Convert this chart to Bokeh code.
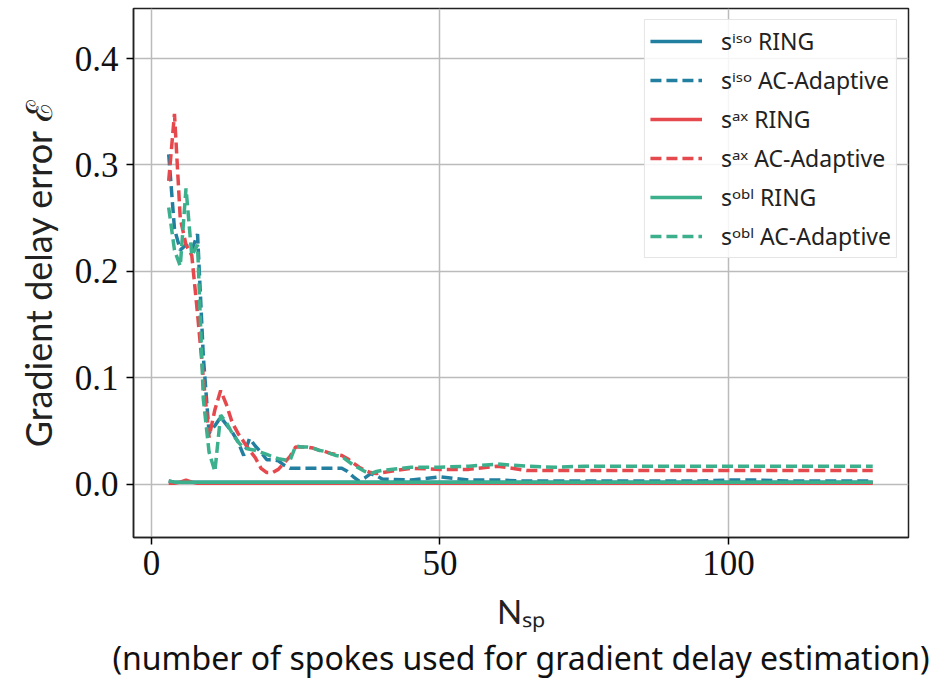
from bokeh.plotting import figure
from bokeh.models import Legend, LegendItem, FixedTicker, Range1d, Title, PrintfTickFormatter
from bokeh.embed import file_html
from bokeh.resources import INLINE

# Number of spokes
n_sp = [3, 4, 5, 6, 7, 8, 9, 10, 11, 12, 13, 14, 15, 16, 17, 18, 19, 20, 21, 22,
        23, 24, 25, 26, 27, 28, 29, 30, 31, 32, 33, 34, 35, 36, 37, 38, 39, 40,
        45, 50, 55, 60, 65, 70, 75, 80, 85, 90, 95, 100, 105, 110, 115, 120, 125]

iso_ring = [0.003, 0.002, 0.002, 0.002, 0.002, 0.002, 0.002, 0.002, 0.002, 0.002,
            0.002, 0.002, 0.002, 0.002, 0.002, 0.002, 0.002, 0.002, 0.002, 0.002,
            0.002, 0.002, 0.002, 0.002, 0.002, 0.002, 0.002, 0.002, 0.002, 0.002,
            0.002, 0.002, 0.002, 0.002, 0.002, 0.002, 0.002, 0.002,
            0.002, 0.002, 0.002, 0.002, 0.002, 0.002, 0.002, 0.002, 0.002, 0.002,
            0.002, 0.002, 0.002, 0.002, 0.002, 0.002, 0.002]
iso_ac = [0.310, 0.240, 0.220, 0.225, 0.220, 0.235, 0.120, 0.048, 0.055, 0.063,
          0.056, 0.049, 0.040, 0.027, 0.043, 0.036, 0.030, 0.023, 0.023, 0.022,
          0.018, 0.015, 0.015, 0.015, 0.015, 0.015, 0.015, 0.015, 0.015, 0.015,
          0.015, 0.012, 0.007, 0.003, 0.006, 0.010, 0.008, 0.005,
          0.004, 0.007, 0.004, 0.004, 0.003, 0.003, 0.003, 0.003, 0.003, 0.003,
          0.003, 0.004, 0.004, 0.003, 0.003, 0.003, 0.003]
ax_ring = [0.001, 0.001, 0.002, 0.004, 0.002, 0.001, 0.001, 0.001, 0.001, 0.001,
           0.001, 0.001, 0.001, 0.001, 0.001, 0.001, 0.001, 0.001, 0.001, 0.001,
           0.001, 0.001, 0.001, 0.001, 0.001, 0.001, 0.001, 0.001, 0.001, 0.001,
           0.001, 0.001, 0.001, 0.001, 0.001, 0.001, 0.001, 0.001,
           0.001, 0.001, 0.001, 0.001, 0.001, 0.001, 0.001, 0.001, 0.001, 0.001,
           0.001, 0.001, 0.001, 0.001, 0.001, 0.001, 0.001]
ax_ac = [0.285, 0.348, 0.250, 0.225, 0.215, 0.160, 0.100, 0.044, 0.070, 0.088,
         0.075, 0.058, 0.048, 0.040, 0.032, 0.025, 0.015, 0.011, 0.011, 0.014,
         0.020, 0.026, 0.035, 0.035, 0.035, 0.034, 0.032, 0.031, 0.029, 0.028,
         0.027, 0.024, 0.020, 0.016, 0.013, 0.011, 0.010, 0.011,
         0.015, 0.014, 0.014, 0.017, 0.013, 0.013, 0.013, 0.013, 0.013, 0.013,
         0.013, 0.013, 0.013, 0.013, 0.013, 0.013, 0.013]
obl_ring = [0.003, 0.002, 0.002, 0.002, 0.002, 0.002, 0.002, 0.002, 0.002, 0.002,
            0.002, 0.002, 0.002, 0.002, 0.002, 0.002, 0.002, 0.002, 0.002, 0.002,
            0.002, 0.002, 0.002, 0.002, 0.002, 0.002, 0.002, 0.002, 0.002, 0.002,
            0.002, 0.002, 0.002, 0.002, 0.002, 0.002, 0.002, 0.002,
            0.002, 0.002, 0.002, 0.002, 0.002, 0.002, 0.002, 0.002, 0.002, 0.002,
            0.002, 0.002, 0.002, 0.002, 0.002, 0.002, 0.002]
obl_ac = [0.260, 0.220, 0.205, 0.278, 0.215, 0.225, 0.080, 0.030, 0.012, 0.065,
          0.058, 0.048, 0.040, 0.034, 0.033, 0.032, 0.030, 0.028, 0.026, 0.024,
          0.023, 0.022, 0.036, 0.035, 0.035, 0.034, 0.032, 0.031, 0.029, 0.027,
          0.026, 0.022, 0.018, 0.015, 0.012, 0.010, 0.012, 0.013,
          0.016, 0.016, 0.017, 0.019, 0.017, 0.016, 0.017, 0.017, 0.017, 0.017,
          0.017, 0.017, 0.017, 0.017, 0.017, 0.017, 0.017]

x_ticks = [0, 50, 100]
y_ticks = [0.0, 0.1, 0.2, 0.3, 0.4]

BLUE = "#237fa0"
RED = "#e5484d"
GREEN = "#3caf8c"

p = figure(width=942, height=679, output_backend="svg", toolbar_location=None,
           x_range=Range1d(-3.1, 131.2), y_range=Range1d(-0.05, 0.447))
p.min_border_left = 133
p.min_border_right = 34
p.min_border_top = 8
p.min_border_bottom = 142
p.outline_line_color = "#222222"
p.outline_line_width = 1.5

series = [
    ("sⁱˢᵒ RING", iso_ring, BLUE, "solid"),
    ("sⁱˢᵒ AC-Adaptive", iso_ac, BLUE, "11 5"),
    ("sᵃˣ RING", ax_ring, RED, "solid"),
    ("sᵃˣ AC-Adaptive", ax_ac, RED, "11 5"),
    ("sᵒᵇˡ RING", obl_ring, GREEN, "solid"),
    ("sᵒᵇˡ AC-Adaptive", obl_ac, GREEN, "11 5"),
]
items = []
for name, ys, col, dash in series:
    r = p.line(n_sp, ys, line_color=col, line_width=3.5, line_dash=dash)
    items.append(LegendItem(label=name, renderers=[r]))

legend = Legend(items=items, location="top_right", margin=11,
                label_text_font="Noto Sans", label_text_font_size="23px",
                label_text_color="#222222",
                glyph_width=52, glyph_height=30, label_height=30, spacing=7,
                padding=5, label_standoff=19,
                border_line_color="#cccccc", border_line_width=1.5,
                background_fill_alpha=0.85)
p.add_layout(legend)

for ax in (p.xaxis, p.yaxis):
    ax.major_label_text_font = "Liberation Serif"
    ax.major_label_text_font_size = "35px"
    ax.major_label_text_color = "#111111"
    ax.major_tick_out = 7
    ax.major_tick_in = 0
    ax.minor_tick_out = 0
    ax.minor_tick_in = 0
    ax.axis_line_color = "#222222"
    ax.axis_line_width = 1.5
    ax.major_tick_line_width = 1.5
    ax.axis_label_text_font_style = "normal"
    ax.axis_label_text_color = "#222222"

p.xaxis.ticker = FixedTicker(ticks=x_ticks)
p.yaxis.ticker = FixedTicker(ticks=y_ticks)
p.yaxis.formatter = PrintfTickFormatter(format="%.1f")
p.xaxis.major_label_standoff = 6
p.yaxis.major_label_standoff = 8

p.yaxis.axis_label = "Gradient delay error ℰ"
p.yaxis.axis_label_text_font = "Lato"
p.yaxis.axis_label_text_font_size = "36px"
p.yaxis.axis_label_standoff = 12

p.xaxis.axis_label = "Nₛₚ"
p.xaxis.axis_label_text_font = "Lato"
p.xaxis.axis_label_text_font_size = "33px"
p.xaxis.axis_label_standoff = 13

p.xgrid.grid_line_color = "#bbbbbb"
p.ygrid.grid_line_color = "#bbbbbb"
p.xgrid.grid_line_width = 1.5
p.ygrid.grid_line_width = 1.5

caption = Title(text="(number of spokes used for gradient delay estimation)",
                align="center", text_font="Noto Sans", text_font_size="32px",
                text_font_style="normal", text_color="#111111", offset=0,
                standoff=0)
p.add_layout(caption, "below")

p.background_fill_color = "white"
p.border_fill_color = "white"

open("out.html", "w").write(file_html(p, INLINE))
